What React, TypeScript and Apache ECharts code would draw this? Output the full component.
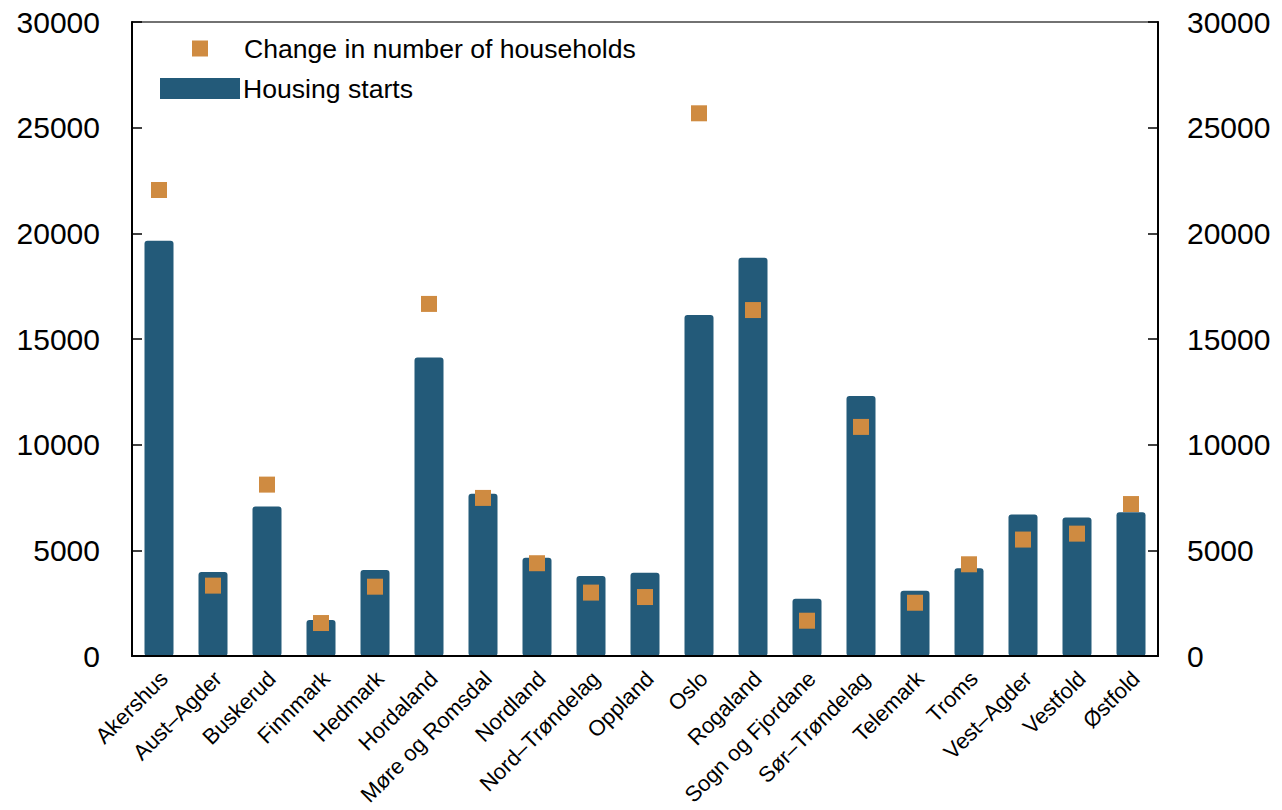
import React, { useEffect, useRef } from 'react';
import * as echarts from 'echarts';

const categories = [
  'Akershus', 'Aust–Agder', 'Buskerud', 'Finnmark', 'Hedmark', 'Hordaland',
  'Møre og Romsdal', 'Nordland', 'Nord–Trøndelag', 'Oppland', 'Oslo', 'Rogaland',
  'Sogn og Fjordane', 'Sør–Trøndelag', 'Telemark', 'Troms', 'Vest–Agder', 'Vestfold', 'Østfold',
];
const housingStarts = [
  19650, 3980, 7070, 1700, 4070, 14130, 7680, 4650, 3790, 3940,
  16140, 18850, 2710, 12300, 3090, 4150, 6700, 6550, 6800,
];
const householdChange = [
  22050, 3330, 8110, 1560, 3280, 16660, 7480, 4390, 3000, 2790,
  25680, 16370, 1670, 10840, 2520, 4340, 5510, 5790, 7190,
];
const yMin = 0;
const yMax = 30000;
const yStep = 5000;

const FONT = "'Liberation Sans', Arial, Helvetica, sans-serif";
const SQUARE = 'path://M0,0L10,0L10,10L0,10Z';

export default function App() {
  const ref = useRef<HTMLDivElement>(null);
  useEffect(() => {
    const chart = echarts.init(ref.current!, null, { renderer: 'svg' });
    const yAxisBase = {
      type: 'value',
      min: yMin,
      max: yMax,
      interval: yStep,
      z: 10,
      axisLine: { show: true, lineStyle: { color: '#000', width: 2 } },
      axisTick: { show: true, inside: true, length: 10, lineStyle: { color: '#000', width: 1.5 } },
      splitLine: { show: false },
    };
    const fmt = (v: number) => String(v);
    chart.setOption({
      animation: false,
      backgroundColor: '#fff',
      textStyle: { fontFamily: FONT },
      grid: {
        left: 132, right: 124, top: 22, bottom: 154,
        containLabel: false, outerBoundsMode: 'none',
        show: true, borderColor: '#444', borderWidth: 1.5,
      },
      legend: [
        {
          data: [{ name: 'Change in number of households', icon: 'rect' }],
          left: 187, top: 30, itemWidth: 16, itemHeight: 16, selectedMode: false,
          textStyle: { fontSize: 26.6, color: '#000', fontFamily: FONT, padding: [0, 0, 0, 31] },
        },
        {
          data: [{ name: 'Housing starts', icon: 'rect' }],
          left: 155, top: 70, itemWidth: 80, itemHeight: 21, selectedMode: false,
          textStyle: { fontSize: 26.6, color: '#000', fontFamily: FONT, padding: [0, 0, 0, -2] },
        },
      ],
      xAxis: {
        type: 'category',
        data: categories,
        z: 10,
        axisLine: { lineStyle: { color: '#000', width: 2 } },
        axisTick: { inside: true, alignWithLabel: true, length: 10, lineStyle: { color: '#000', width: 1.5 } },
        axisLabel: {
          rotate: 45, interval: 0, fontSize: 22, lineHeight: 14, color: '#000', margin: 14,
          align: 'right', verticalAlign: 'top', fontFamily: FONT,
        },
      },
      yAxis: [
        { ...yAxisBase, position: 'left', axisLabel: { fontSize: 30, color: '#000', margin: 32, fontFamily: FONT, formatter: fmt } },
        { ...yAxisBase, position: 'right', axisLabel: { fontSize: 30, color: '#000', margin: 29, fontFamily: FONT, formatter: fmt } },
      ],
      series: [
        {
          name: 'Housing starts', type: 'bar', data: housingStarts, barWidth: 29,
          itemStyle: { color: '#235a79', borderRadius: 3 },
        },
        {
          name: 'Change in number of households', type: 'scatter', data: householdChange,
          symbol: SQUARE, symbolSize: 16, symbolKeepAspect: true, z: 5,
          itemStyle: { color: '#cf8b41', opacity: 1 },
        },
      ],
    });
    return () => chart.dispose();
  }, []);
  return <div ref={ref} style={{ position: 'fixed', left: 0, top: 0, width: 1282, height: 810 }} />;
}
